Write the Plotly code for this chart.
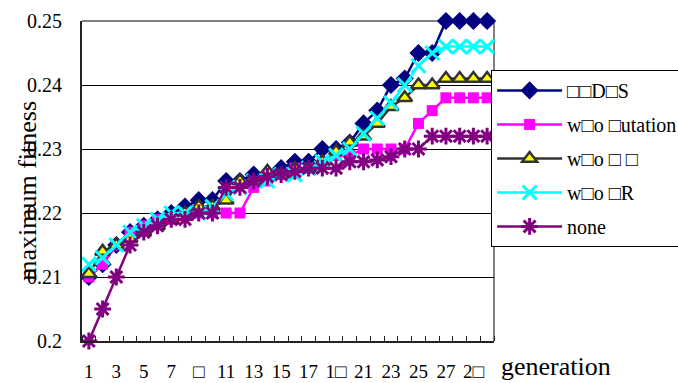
import plotly.graph_objects as go

# generations 1..30
generations = list(range(1, 31))

# maximum fitness per generation for each variant
fit_drs = [0.210, 0.212, 0.215, 0.217, 0.218, 0.219, 0.220, 0.221, 0.222, 0.222,
           0.225, 0.225, 0.226, 0.226, 0.227, 0.228, 0.228, 0.230, 0.230, 0.231,
           0.234, 0.236, 0.240, 0.241, 0.245, 0.245, 0.250, 0.250, 0.250, 0.250]
fit_no_mutation = [0.210, 0.212, 0.215, 0.217, 0.218, 0.219, 0.219, 0.220, 0.220, 0.220,
                   0.220, 0.220, 0.224, 0.225, 0.226, 0.227, 0.227, 0.228, 0.229, 0.229,
                   0.230, 0.230, 0.230, 0.230, 0.234, 0.236, 0.238, 0.238, 0.238, 0.238]
fit_no_third = [0.2105, 0.214, 0.215, 0.216, 0.217, 0.218, 0.219, 0.220, 0.221, 0.221,
                0.222, 0.225, 0.225, 0.2265, 0.226, 0.227, 0.227, 0.228, 0.2296, 0.231,
                0.232, 0.234, 0.2366, 0.238, 0.240, 0.240, 0.241, 0.241, 0.241, 0.241]
fit_no_r = [0.212, 0.213, 0.215, 0.217, 0.218, 0.219, 0.220, 0.220, 0.220, 0.221,
            0.223, 0.224, 0.225, 0.225, 0.226, 0.226, 0.227, 0.228, 0.229, 0.230,
            0.2324, 0.2348, 0.2372, 0.240, 0.243, 0.245, 0.246, 0.246, 0.246, 0.246]
fit_none = [0.200, 0.205, 0.210, 0.215, 0.217, 0.218, 0.219, 0.219, 0.220, 0.220,
            0.224, 0.224, 0.225, 0.2257, 0.226, 0.2265, 0.227, 0.227, 0.227, 0.228,
            0.228, 0.2283, 0.2288, 0.230, 0.230, 0.232, 0.232, 0.232, 0.232, 0.232]

series_names = ["□□D□S", "w□o □utation", "w□o □ □", "w□o □R", "none"]

tick_vals = list(range(1, 30, 2))
tick_text = ["1", "3", "5", "7", "□", "11", "13", "15", "17", "1□",
             "21", "23", "25", "27", "2□"]
y_ticks = [0.2, 0.21, 0.22, 0.23, 0.24, 0.25]
y_text = ["0.2", "0.21", "0.22", "0.23", "0.24", "0.25"]

SERIF = "Liberation Serif"

styles = [
    dict(line=dict(color="#000080", width=2.5),
         marker=dict(symbol="diamond", size=14, color="#000080")),
    dict(line=dict(color="#FF00FF", width=2.5),
         marker=dict(symbol="square", size=11, color="#FF00FF")),
    dict(line=dict(color="#333333", width=2.5),
         marker=dict(symbol="triangle-up", size=13, color="#FFFF00",
                     line=dict(color="#333333", width=2.5))),
    dict(line=dict(color="#00FFFF", width=2.5),
         marker=dict(symbol="x-thin", size=14, color="#00FFFF",
                     line=dict(color="#00FFFF", width=3))),
    dict(line=dict(color="#800080", width=2.5),
         marker=dict(symbol="asterisk", size=14, color="#800080",
                     line=dict(color="#800080", width=3))),
]

all_series = [fit_drs, fit_no_mutation, fit_no_third, fit_no_r, fit_none]

fig = go.Figure()
for i, (name, ys, st) in enumerate(zip(series_names, all_series, styles)):
    fig.add_trace(go.Scatter(
        x=generations, y=ys, name=name, mode="lines+markers",
        legendgroup=f"g{i}", cliponaxis=False, **st))

fig.update_layout(
    template="none",
    width=678, height=383,
    margin=dict(l=82, r=184, t=21, b=42, autoexpand=False),
    paper_bgcolor="white", plot_bgcolor="white",
    font=dict(family=SERIF, color="black", size=19),
    showlegend=True,
    legend=dict(
        x=0.993, y=0.847, xanchor="left", yanchor="top",
        bgcolor="white", bordercolor="black", borderwidth=1,
        font=dict(family=SERIF, size=20, color="black"),
        traceorder="grouped", tracegroupgap=5, itemwidth=65,
    ),
    xaxis=dict(
        range=[0.5, 30.5], tickmode="array", tickvals=tick_vals, ticktext=tick_text,
        ticks="", showgrid=False, zeroline=False, automargin=False,
        showline=True, linecolor="#222222", linewidth=2,
        tickfont=dict(family=SERIF, size=19, color="black"), ticklabelstandoff=12,
        minor=dict(tick0=0.5, dtick=1, ticks="inside", ticklen=5,
                   tickcolor="#222222", tickwidth=1, showgrid=False),
    ),
    yaxis=dict(
        range=[0.2, 0.25], tickmode="array", tickvals=y_ticks, ticktext=y_text,
        ticks="", showgrid=True, gridcolor="black", gridwidth=1, zeroline=False,
        automargin=False,
        showline=True, linecolor="#222222", linewidth=2,
        tickfont=dict(family=SERIF, size=20, color="black"), ticklabelstandoff=14,
    ),
    shapes=[
        dict(type="line", xref="paper", yref="paper", x0=0, x1=1, y0=1, y1=1,
             line=dict(color="#808080", width=2), layer="between"),
        dict(type="line", xref="paper", yref="paper", x0=1, x1=1, y0=0, y1=1,
             line=dict(color="#808080", width=2), layer="between"),
    ],
    annotations=[
        dict(text="maximum fitness", xref="paper", yref="paper",
             x=-0.133, y=0.47, textangle=-90, showarrow=False,
             xanchor="center", yanchor="middle",
             font=dict(family=SERIF, size=26, color="black")),
        dict(text="generation", xref="paper", yref="paper",
             x=1.012, y=-0.08, showarrow=False,
             xanchor="left", yanchor="middle",
             font=dict(family=SERIF, size=26, color="black")),
    ],
)

fig.write_html("out.html")
